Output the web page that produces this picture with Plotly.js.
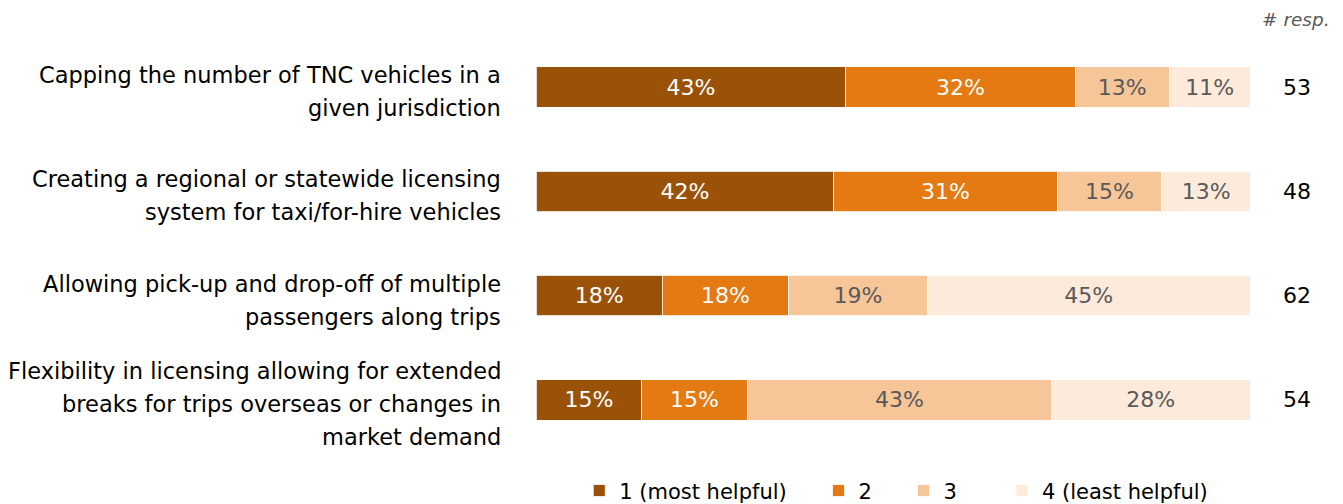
<!DOCTYPE html>
<html>
<head>
<meta charset="utf-8">
<script src="https://cdn.plot.ly/plotly-3.0.1.min.js"></script>
<style>html,body{margin:0;padding:0;background:#fff;}#chart{width:1343px;height:504px;}</style>
</head>
<body>
<div id="chart"></div>
<script>
const categories = [
  "Capping the number of TNC vehicles in a<br>given jurisdiction",
  "Creating a regional or statewide licensing<br>system for taxi/for-hire vehicles",
  "Allowing pick-up and drop-off of multiple<br>passengers along trips",
  "Flexibility in licensing allowing for extended<br>breaks for trips overseas or changes in<br>market demand"
];
const seriesNames = ["1 (most helpful)", "2", "3", "4 (least helpful)"];
const rank1 = [43.4, 41.7, 17.7, 14.8];
const rank2 = [32.1, 31.3, 17.7, 14.8];
const rank3 = [13.2, 14.6, 19.4, 42.6];
const rank4 = [11.3, 12.5, 45.2, 27.8];
const labels1 = ["43%", "42%", "18%", "15%"];
const labels2 = ["32%", "31%", "18%", "15%"];
const labels3 = ["13%", "15%", "19%", "43%"];
const labels4 = ["11%", "13%", "45%", "28%"];
const responses = [53, 48, 62, 54];

const FONT = "'DejaVu Sans', sans-serif";
const colors = ["#9A5209", "#E57A12", "#F6C699", "#FDEADB"];
const textColors = ["#ffffff", "#ffffff", "#595959", "#595959"];
const vals = [rank1, rank2, rank3, rank4];
const texts = [labels1, labels2, labels3, labels4];
const padCounts = [4, 4, 6, 0];

const traces = vals.map((v, i) => ({
  type: "bar",
  orientation: "h",
  name: seriesNames[i] + "\u00a0".repeat(padCounts[i]),
  y: categories,
  x: v,
  text: texts[i],
  texttemplate: "%{text}",
  textposition: "inside",
  insidetextanchor: "middle",
  textangle: 0,
  constraintext: "none",
  textfont: {family: FONT, size: 22, color: textColors[i]},
  marker: {color: colors[i], line: {color: "#ffffff", width: 0.8}},
  width: 0.39,
  hoverinfo: "skip"
}));

const annotations = [];
const lineGap = 33;
categories.forEach((c, i) => {
  const lines = c.split("<br>");
  const n = lines.length;
  lines.forEach((ln, k) => {
    annotations.push({
      xref: "paper", yref: "y", x: -0.046, y: c,
      xanchor: "right", yanchor: "middle", align: "right",
      text: ln, showarrow: false,
      yshift: -4.5 + ((n - 1) / 2 - k) * lineGap,
      font: {family: FONT, size: 22.5, color: "#000000"}
    });
  });
  annotations.push({
    xref: "paper", yref: "y", x: 1.066, y: c,
    xanchor: "center", yanchor: "middle",
    text: String(responses[i]), showarrow: false,
    font: {family: FONT, size: 22, color: "#000000"}
  });
});
annotations.push({
  xref: "paper", yref: "paper", x: 1.064, y: 1.036,
  xanchor: "center", yanchor: "middle",
  text: "<i># resp.</i>", showarrow: false,
  font: {family: FONT, size: 18.5, color: "#595959"}
});

const layout = {
  width: 1343, height: 504,
  margin: {l: 536, r: 93, t: 35, b: 52},
  barmode: "stack",
  bargap: 0.61,
  paper_bgcolor: "#ffffff",
  plot_bgcolor: "#ffffff",
  showlegend: true,
  legend: {
    orientation: "h", xref: "container", yref: "container",
    x: 0.4313, y: 0.026, xanchor: "left", yanchor: "middle",
    font: {family: FONT, size: 21, color: "#000000"},
    traceorder: "normal", itemwidth: 30
  },
  xaxis: {range: [0, 100], visible: false, fixedrange: true},
  yaxis: {type: "category", autorange: "reversed", showticklabels: false, showgrid: false, zeroline: false, showline: false, ticks: "", fixedrange: true},
  annotations: annotations,
  hovermode: false
};

Plotly.newPlot("chart", traces, layout, {displayModeBar: false, staticPlot: true});
</script>
</body>
</html>
